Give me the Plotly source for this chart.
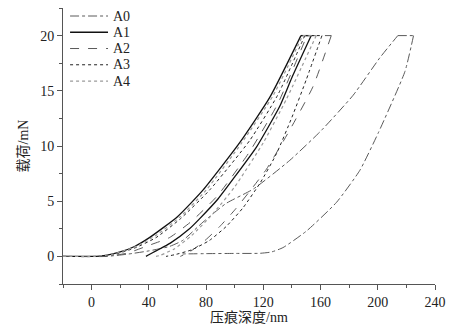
import plotly.graph_objects as go

# Load-depth curves of the nanoindentation tests (depth in nm, load in mN).
# Each sample: loading branch -> hold at peak load -> unloading branch.
samples = ["A0", "A1", "A2", "A3", "A4"]

a0_load_depth = [-20, 10, 25, 40, 54.4, 63.7, 77.8, 94, 113, 138.5, 160.5, 182.8, 201.5, 214]
a0_load_force = [0, 0, 0.2, 0.5, 0.9, 1.45, 3.1, 4.8, 6.1, 8.7, 11.4, 14.6, 18.0, 20]
a0_unload_depth = [225, 219, 200.4, 187.5, 171.2, 150.2, 133.8, 125.7, 117.5, 100, 80, 62]
a0_unload_force = [20, 16.75, 11.2, 7.8, 4.9, 2.3, 0.8, 0.4, 0.28, 0.27, 0.25, 0.22]

a1_load_depth = [-20, 0, 10, 20, 30, 40.4, 60, 77.8, 103.5, 124.5, 146.3]
a1_load_force = [0, 0, 0.1, 0.4, 0.9, 1.7, 3.6, 6.0, 10.3, 14.4, 20]
a1_unload_depth = [153.5, 140, 131.5, 115.2, 100, 88.3, 75.4, 68.4, 55, 45, 40, 38]
a1_unload_force = [20, 16.2, 13.6, 9.9, 7.2, 5.2, 3.4, 2.5, 1.2, 0.5, 0.15, 0]

a2_load_depth = [-20, 10, 25, 40, 54.4, 70, 88, 110, 130, 150.5]
a2_load_force = [0, 0, 0.3, 1.0, 1.7, 3.2, 5.5, 9.4, 13.8, 20]
a2_unload_depth = [167.5, 154.8, 138.5, 122.2, 110.5, 100, 89.5, 78, 68.4, 62]
a2_unload_force = [20, 15.4, 11.45, 7.9, 5.9, 4.2, 2.7, 1.3, 0.4, 0]

a3_load_depth = [-20, 3, 15, 30, 45, 62, 82.4, 110.5, 130, 149]
a3_load_force = [0, 0, 0.15, 0.75, 1.7, 3.4, 6.0, 10.5, 14.6, 20]
a3_unload_depth = [161, 150, 140, 129.2, 118, 105.8, 94, 82.4, 70, 58, 52]
a3_unload_force = [20, 16.0, 12.6, 9.3, 6.7, 4.4, 2.7, 1.45, 0.6, 0.15, 0]

a4_load_depth = [-20, 2, 15, 30, 45, 62, 80, 105, 127, 147.5]
a4_load_force = [0, 0, 0.2, 0.85, 1.9, 3.6, 6.0, 10.3, 14.6, 20]
a4_unload_depth = [157, 136, 120, 100, 85, 70, 58, 48, 45]
a4_unload_force = [20, 14.2, 10.3, 6.3, 3.9, 1.9, 0.7, 0.1, 0]

x_ticks = [0, 40, 80, 120, 160, 200, 240]
y_ticks = [0, 5, 10, 15, 20]

curves = [
    (a0_load_depth, a0_load_force, a0_unload_depth, a0_unload_force),
    (a1_load_depth, a1_load_force, a1_unload_depth, a1_unload_force),
    (a2_load_depth, a2_load_force, a2_unload_depth, a2_unload_force),
    (a3_load_depth, a3_load_force, a3_unload_depth, a3_unload_force),
    (a4_load_depth, a4_load_force, a4_unload_depth, a4_unload_force),
]
styles = [
    dict(color="#5a5a5a", width=1.0, dash="dashdot"),
    dict(color="#111111", width=1.3, dash="solid"),
    dict(color="#5a5a5a", width=1.0, dash="dash"),
    dict(color="#222222", width=1.0, dash="dot"),
    dict(color="#9a9a9a", width=1.2, dash="dot"),
]

serif = "Liberation Serif, Noto Sans CJK SC, serif"
text_color = "#222222"

fig = go.Figure()
for name, (ld, lf, ud, uf), st in zip(samples, curves, styles):
    # loading branch
    fig.add_trace(go.Scatter(x=ld, y=lf, mode="lines", name=name, legendgroup=name,
                             showlegend=False,
                             line=dict(shape="spline", smoothing=0.5, **st)))
    # hold at peak load
    fig.add_trace(go.Scatter(x=[ld[-1], ud[0]], y=[lf[-1], uf[0]], mode="lines",
                             name=name, legendgroup=name, showlegend=False,
                             line=dict(shape="linear", **st)))
    # unloading branch
    fig.add_trace(go.Scatter(x=ud, y=uf, mode="lines", name=name, legendgroup=name,
                             showlegend=False,
                             line=dict(shape="spline", smoothing=0.5, **st)))

# legend drawn in the upper-left corner of the plotting area
leg_x0, leg_x1, leg_tx = 0.019, 0.121, 0.129
leg_y0, leg_dy = 0.971, 0.0589
for i, (name, st) in enumerate(zip(samples, styles)):
    yy = leg_y0 - i * leg_dy
    fig.add_shape(type="line", xref="paper", yref="paper",
                  x0=leg_x0, x1=leg_x1, y0=yy, y1=yy,
                  line=dict(color=st["color"], width=st["width"], dash=st["dash"]))
    fig.add_annotation(xref="paper", yref="paper", x=leg_tx, y=yy, text=name,
                       showarrow=False, xanchor="left", yanchor="middle",
                       font=dict(family=serif, size=14, color=text_color))

axis_common = dict(
    showgrid=False, zeroline=False, showline=True, linecolor="#555555", linewidth=1,
    ticks="outside", ticklen=5, tickcolor="#555555", tickwidth=1,
    tickfont=dict(family=serif, size=14, color=text_color),
    mirror=False,
)

fig.update_xaxes(
    range=[-20, 240], tickvals=x_ticks,
    minor=dict(dtick=20, ticks="outside", ticklen=3, tickcolor="#555555"),
    title=dict(text="压痕深度/nm", font=dict(family=serif, size=14, color=text_color), standoff=3),
    **axis_common,
)
fig.update_yaxes(
    range=[-2.5, 22.5], tickvals=y_ticks,
    minor=dict(dtick=2.5, ticks="outside", ticklen=3, tickcolor="#555555"),
    title=dict(text="载荷/mN", font=dict(family=serif, size=14, color=text_color), standoff=8),
    **axis_common,
)

fig.update_layout(
    width=461, height=335,
    margin=dict(l=63, r=26, t=8, b=51),
    paper_bgcolor="white", plot_bgcolor="white",
    showlegend=False,
)

fig.write_html("out.html")
